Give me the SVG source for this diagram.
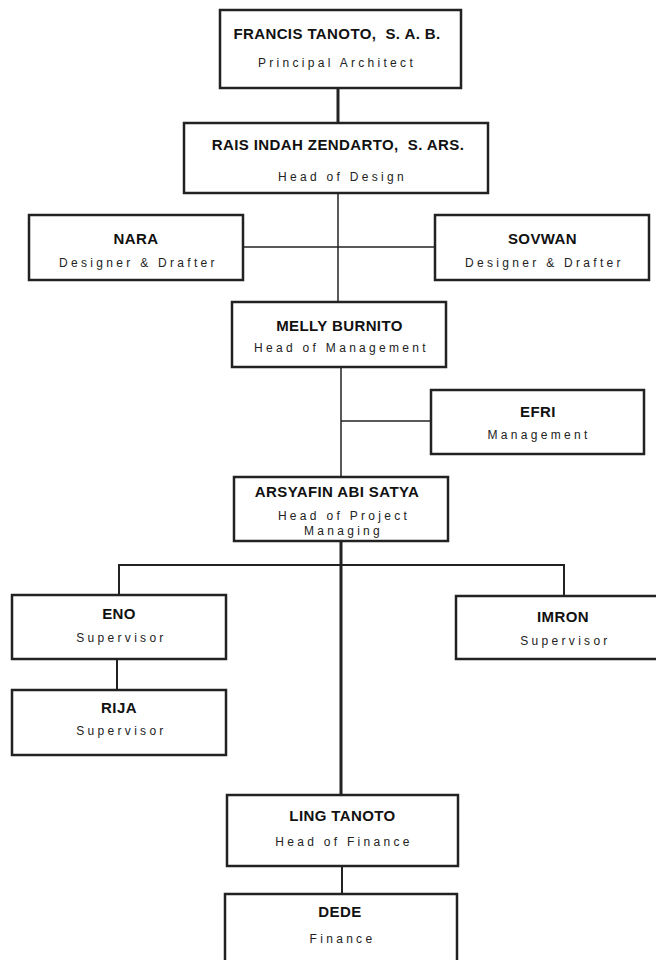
<svg xmlns="http://www.w3.org/2000/svg" width="656" height="960" viewBox="0 0 656 960">
<style>
.box{fill:#fff;stroke:#222;stroke-width:2.5}
.t{font-family:"Liberation Sans",Arial,sans-serif;font-weight:bold;font-size:15px;letter-spacing:0.4px;fill:#111;text-anchor:middle}
.s{font-family:"Liberation Sans",Arial,sans-serif;font-size:12px;letter-spacing:3.3px;fill:#222;text-anchor:middle}
.c{stroke:#222;fill:none}
</style>
<rect width="656" height="960" fill="#fff"/>
<g id="connectors">
<line class="c" x1="338" y1="88" x2="338" y2="123" stroke-width="3"/>
<line class="c" x1="338" y1="193" x2="338" y2="302" stroke-width="1.5"/>
<line class="c" x1="243" y1="247" x2="435" y2="247" stroke-width="1.5"/>
<line class="c" x1="341" y1="367" x2="341" y2="477" stroke-width="1.5"/>
<line class="c" x1="341" y1="421" x2="431" y2="421" stroke-width="1.5"/>
<line class="c" x1="341" y1="541" x2="341" y2="795" stroke-width="3"/>
<polyline class="c" points="119,595 119,565 564,565 564,596" stroke-width="2" stroke="#444"/>
<line class="c" x1="117" y1="659" x2="117" y2="690" stroke-width="2"/>
<line class="c" x1="342" y1="866" x2="342" y2="894" stroke-width="2"/>
</g>
<g id="francis"><rect class="box" x="220" y="10" width="241" height="78"/><text class="t" x="337" y="38.5" xml:space="preserve">FRANCIS TANOTO,  S. A. B.</text><text class="s" x="337" y="67">Principal Architect</text></g>
<g id="rais"><rect class="box" x="184" y="123" width="304" height="70"/><text class="t" x="338" y="149.5" xml:space="preserve">RAIS INDAH ZENDARTO,  S. ARS.</text><text class="s" x="342.5" y="180.5">Head of Design</text></g>
<g id="nara"><rect class="box" x="29" y="215" width="214" height="65"/><text class="t" x="136" y="244">NARA</text><text class="s" x="138.5" y="266.5">Designer &amp; Drafter</text></g>
<g id="sovwan"><rect class="box" x="435" y="215" width="214" height="65"/><text class="t" x="542.5" y="244">SOVWAN</text><text class="s" x="544.5" y="266.5">Designer &amp; Drafter</text></g>
<g id="melly"><rect class="box" x="232" y="302" width="214" height="65"/><text class="t" x="339.5" y="330.5">MELLY BURNITO</text><text class="s" x="341.5" y="351.5">Head of Management</text></g>
<g id="efri"><rect class="box" x="431" y="390" width="213" height="64"/><text class="t" x="538" y="416.5">EFRI</text><text class="s" x="539" y="439">Management</text></g>
<g id="arsyafin"><rect class="box" x="234" y="477" width="214" height="64"/><text class="t" x="337" y="497">ARSYAFIN ABI SATYA</text><text class="s" x="344" y="519.5">Head of Project</text><text class="s" x="343.5" y="535">Managing</text></g>
<g id="eno"><rect class="box" x="12" y="595" width="214" height="64"/><text class="t" x="119" y="619">ENO</text><text class="s" x="121.5" y="642">Supervisor</text></g>
<g id="imron"><rect class="box" x="456" y="596" width="214" height="63"/><text class="t" x="563" y="622">IMRON</text><text class="s" x="565.5" y="645">Supervisor</text></g>
<g id="rija"><rect class="box" x="12" y="690" width="214" height="65"/><text class="t" x="119" y="713">RIJA</text><text class="s" x="121.5" y="734.5">Supervisor</text></g>
<g id="ling"><rect class="box" x="227" y="795" width="231" height="71"/><text class="t" x="342.5" y="821">LING TANOTO</text><text class="s" x="344" y="845.5">Head of Finance</text></g>
<g id="dede"><rect class="box" x="225" y="894" width="232" height="75"/><text class="t" x="340" y="917">DEDE</text><text class="s" x="342.5" y="942.5">Finance</text></g>
</svg>
